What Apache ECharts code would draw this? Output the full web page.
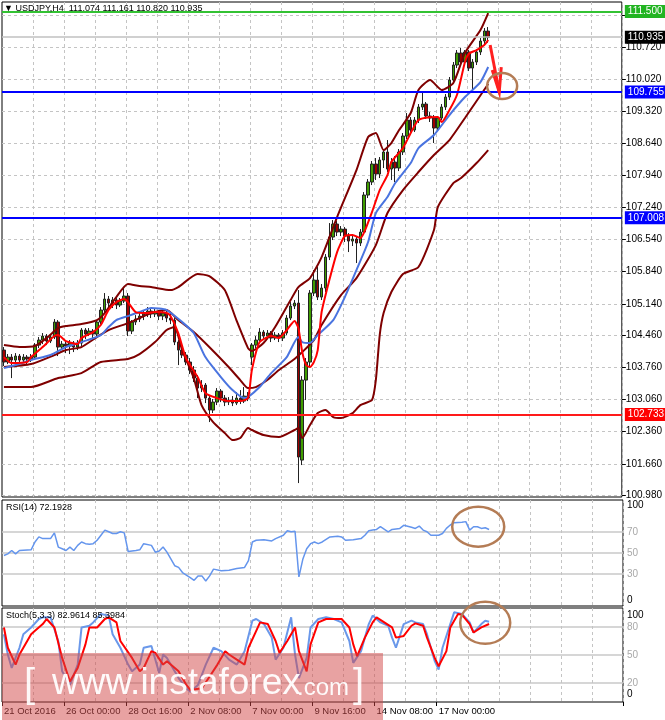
<!DOCTYPE html>
<html><head><meta charset="utf-8">
<script src="https://cdn.jsdelivr.net/npm/echarts@6/dist/echarts.min.js"></script>
<style>html,body{margin:0;padding:0;background:#fff}#c{width:665px;height:720px}</style>
</head><body><div id="c"></div>
<script>
// ---- data ----
// candles: [open, close, low, high], H4 bars from 21 Oct 2016 08:00
const ohlc = [
[104.134,103.873,103.786,104.199],[103.873,103.981,103.829,104.047],[103.981,103.916,103.524,104.047],[103.916,104.003,103.873,104.068],[104.003,103.916,103.851,104.047],[103.916,103.981,103.873,104.047],[103.981,103.938,103.829,104.025],[103.938,103.981,103.873,104.047],
[103.981,104.242,103.938,104.286],[104.242,104.351,104.177,104.417],[104.351,104.438,104.264,104.504],[104.438,104.330,104.242,104.482],[104.330,104.417,104.286,104.482],[104.417,104.743,104.373,104.808],[104.743,104.199,104.003,104.786],[104.199,104.264,104.134,104.330],
[104.264,104.221,104.068,104.330],[104.221,104.286,104.047,104.351],[104.286,104.199,104.090,104.330],[104.199,104.286,104.134,104.351],[104.286,104.569,104.221,104.612],[104.569,104.482,104.373,104.612],[104.482,104.547,104.438,104.612],[104.547,104.482,104.395,104.591],
[104.482,104.743,104.438,104.786],[104.743,105.004,104.699,105.069],[105.004,105.243,104.961,105.374],[105.243,105.156,105.069,105.309],[105.156,105.222,105.048,105.287],[105.222,105.113,105.026,105.265],[105.113,105.200,105.069,105.265],[105.200,105.309,105.156,105.504],
[105.309,104.547,104.438,105.374],[104.547,104.743,104.482,104.786],[104.743,104.808,104.678,104.895],[104.808,104.873,104.743,104.939],[104.873,104.917,104.786,104.982],[104.917,104.982,104.852,105.069],[104.982,104.917,104.830,105.048],[104.917,104.961,104.852,105.026],
[104.961,104.873,104.786,105.004],[104.873,104.939,104.786,104.982],[104.939,104.830,104.743,104.982],[104.830,104.786,104.699,104.939],[104.786,104.308,104.242,104.830],[104.308,104.134,103.807,104.351],[104.134,104.025,103.960,104.199],[104.025,103.873,103.807,104.090],
[103.873,103.699,103.612,103.960],[103.699,103.524,103.437,103.786],[103.524,103.307,103.089,103.590],[103.307,103.372,103.220,103.481],[103.372,103.089,102.981,103.416],[103.089,102.828,102.567,103.155],[102.828,103.002,102.763,103.068],[103.002,103.242,102.937,103.307],
[103.242,103.089,103.002,103.285],[103.089,103.002,102.915,103.155],[103.002,103.046,102.937,103.111],[103.046,102.981,102.915,103.133],[102.981,103.089,102.937,103.220],[103.089,103.024,102.959,103.263],[103.024,103.133,102.981,103.329],[103.133,103.089,103.024,103.220],
[103.981,104.242,103.807,104.286],[104.242,104.351,104.177,104.438],[104.351,104.525,104.286,104.612],[104.525,104.438,104.351,104.569],[104.438,104.504,104.373,104.569],[104.504,104.395,104.308,104.547],[104.395,104.460,104.351,104.525],[104.460,104.395,104.308,104.504],
[104.395,104.504,104.330,104.569],[104.504,104.830,104.460,104.895],[104.830,105.091,104.786,105.178],[105.091,105.156,105.026,105.222],[105.156,101.806,101.240,105.439],[101.740,103.481,101.632,103.568],[103.481,103.873,103.046,103.960],[103.873,105.374,103.786,105.439],
[105.374,105.657,105.309,105.874],[105.657,105.287,105.222,105.940],[105.287,105.483,105.222,105.570],[105.483,106.157,105.396,106.222],[106.157,106.592,106.092,106.897],[106.592,106.875,106.527,106.962],[106.875,106.701,106.614,106.940],[106.701,106.766,106.614,106.832],
[106.766,106.614,106.484,106.810],[106.614,106.505,106.266,106.679],[106.505,106.549,106.397,106.614],[106.549,106.462,106.027,106.614],[106.462,106.701,106.397,106.766],[106.701,107.506,106.636,107.571],[107.506,107.789,107.441,107.854],[107.789,108.181,107.724,108.246],
[108.181,107.963,107.833,108.311],[107.963,108.268,107.876,108.333],[108.268,108.442,108.094,108.507],[108.442,108.072,108.007,108.703],[108.072,108.224,107.833,108.311],[108.224,108.094,107.789,108.355],[108.094,108.442,108.028,108.507],[108.442,108.790,108.377,108.855],
[108.790,109.138,108.725,109.290],[109.138,108.920,108.855,109.203],[108.920,109.138,108.877,109.203],[109.138,109.421,109.073,109.486],[109.421,109.486,109.356,109.747],[109.486,109.225,109.160,109.530],[109.225,109.182,109.095,109.312],[109.182,108.964,108.638,109.247],
[108.964,109.182,108.899,109.225],[109.182,109.421,109.138,109.486],[109.421,109.638,109.356,109.704],[109.638,110.008,109.573,110.074],[110.008,110.335,109.943,110.400],[110.335,110.596,110.269,110.661],[110.596,110.400,110.335,110.705],[110.400,110.618,110.335,110.661],
[110.618,110.269,110.204,110.661],[110.269,110.400,109.791,110.465],[110.400,110.618,110.335,110.683],[110.618,110.857,110.552,110.922],[110.857,111.075,110.792,111.140],[111.074,110.935,110.820,111.161]
];
// indicator lines: [bar index, value]
const upperBand = [[0,104.242],[4,104.199],[8,104.221],[11,104.395],[14,104.612],[16,104.656],[20,104.699],[24,104.786],[26,104.939],[29,105.287],[32,105.570],[35,105.526],[38,105.504],[43,105.439],[45,105.504],[50,105.787],[53,105.744],[57,105.439],[60,104.786],[63,104.177],[64,104.112],[67,104.286],[70,104.634],[74,105.222],[76,105.504],[79,105.700],[82,106.157],[86,107.028],[91,108.050],[94,108.768],[96,108.855],[98,108.485],[100,108.638],[102,108.920],[105,109.290],[107,109.791],[110,110.008],[113,109.791],[116,109.943],[119,110.596],[123,111.096],[125,111.466]];
const midBand = [[0,103.764],[7,103.829],[13,104.025],[16,104.134],[20,104.199],[24,104.417],[27,104.569],[32,104.721],[35,104.830],[38,104.939],[42,105.004],[45,104.786],[49,104.525],[53,104.199],[58,103.764],[61,103.481],[63,103.307],[65,103.329],[68,103.481],[71,103.699],[75,103.938],[77,104.090],[80,104.351],[82,104.678],[87,105.330],[91,105.700],[96,106.418],[99,107.115],[103,107.615],[107,108.007],[111,108.377],[115,108.703],[119,109.182],[125,109.921]];
const lowerBand = [[0,103.329],[7,103.329],[14,103.524],[20,103.633],[25,103.873],[32,103.938],[35,104.047],[39,104.308],[42,104.569],[44,104.634],[46,104.134],[49,103.524],[51,102.937],[54,102.567],[57,102.328],[59,102.176],[61,102.219],[63,102.437],[64,102.394],[67,102.284],[71,102.241],[75,102.394],[76,102.437],[77,102.219],[79,102.502],[81,102.763],[83,102.828],[85,102.676],[87,102.654],[90,102.763],[92,102.937],[95,103.046],[96,103.481],[97,104.460],[98,104.939],[100,105.396],[103,105.787],[107,105.940],[111,106.745],[112,107.245],[116,107.767],[118,107.876],[122,108.202],[125,108.485]];
const blueMA = [[0,103.742],[3,103.807],[7,103.916],[12,104.025],[16,104.199],[20,104.308],[25,104.460],[27,104.634],[29,104.786],[32,104.873],[35,104.961],[38,105.048],[42,105.004],[46,104.743],[49,104.504],[52,103.981],[56,103.546],[59,103.263],[62,103.089],[63,103.111],[66,103.329],[69,103.633],[73,103.981],[76,104.417],[77,104.308],[79,104.286],[81,104.460],[85,104.786],[88,105.287],[91,105.874],[94,106.484],[96,107.115],[99,107.463],[101,107.767],[105,108.202],[107,108.529],[111,108.812],[115,109.247],[119,109.638],[123,109.965],[125,110.291]];
const redMA = [[0,103.981],[2,103.851],[6,103.873],[7,103.981],[10,104.199],[13,104.438],[14,104.460],[16,104.330],[19,104.264],[20,104.395],[23,104.525],[25,104.678],[27,105.004],[29,105.178],[31,105.243],[32,105.178],[34,104.961],[37,104.939],[39,104.961],[42,104.939],[43,104.873],[45,104.504],[47,103.960],[50,103.546],[52,103.198],[55,103.089],[58,103.024],[61,103.024],[63,103.089],[64,103.699],[66,104.308],[69,104.438],[71,104.395],[73,104.569],[75,104.765],[76,104.612],[77,104.090],[78,103.807],[79,103.764],[80,103.873],[81,104.134],[82,104.961],[84,105.657],[86,106.266],[88,106.614],[90,106.636],[92,106.571],[93,106.701],[95,107.136],[97,107.615],[99,107.941],[100,108.224],[103,108.529],[105,108.855],[107,109.138],[110,109.200],[112,109.203],[113,109.095],[115,109.356],[117,109.700],[119,110.400],[120,110.580],[122,110.660],[124,110.770],[125,110.879]];
const rsi = [[0,47.6],[1,49.2],[2,52.4],[3,49.2],[4,52.4],[7,53.0],[8,60.4],[9,65.2],[10,63.6],[12,63.6],[13,69.0],[14,55.6],[15,54.0],[16,52.4],[17,55.6],[18,52.4],[19,57.2],[20,60.4],[21,58.8],[22,58.2],[23,58.8],[24,62.0],[25,66.8],[26,71.6],[27,70.0],[28,68.4],[29,68.4],[30,70.0],[31,69.0],[32,51.4],[34,52.4],[35,53.0],[36,58.8],[38,57.2],[39,50.8],[40,51.8],[41,55.6],[42,50.8],[43,44.4],[44,38.0],[45,36.4],[46,31.6],[48,26.8],[49,24.2],[50,28.4],[51,28.4],[52,23.6],[53,28.4],[54,34.8],[56,33.2],[58,33.8],[60,35.4],[62,36.4],[63,42.8],[64,60.4],[65,62.0],[67,62.6],[69,61.4],[70,63.6],[72,66.8],[73,71.0],[74,70.0],[75,70.5],[76,27.4],[77,44.0],[78,54.0],[79,58.8],[80,60.4],[81,58.8],[82,60.4],[84,65.2],[86,65.8],[87,65.2],[88,62.0],[90,62.6],[92,63.6],[93,66.8],[94,71.0],[95,71.6],[96,72.2],[97,74.8],[99,70.0],[100,72.2],[102,73.2],[103,76.1],[105,74.2],[106,73.2],[107,75.4],[108,71.6],[109,70.0],[110,66.8],[112,66.8],[113,68.4],[114,73.2],[115,76.4],[116,78.6],[118,79.0],[119,79.6],[120,71.6],[121,74.8],[122,74.8],[123,73.2],[124,73.8],[125,72.2]];
const stochBlue = [[0,72.1],[1,50.5],[2,36.2],[4,57.7],[5,72.1],[7,79.3],[9,88.3],[10,90.1],[12,90.1],[14,64.9],[15,32.6],[17,18.2],[19,39.8],[20,79.3],[22,81.1],[23,84.7],[25,93.7],[27,91.9],[28,72.1],[30,57.7],[32,39.8],[33,32.6],[35,39.8],[36,57.7],[38,59.5],[40,30.8],[41,50.5],[42,46.9],[45,25.4],[47,14.6],[48,11.0],[50,18.2],[52,39.8],[54,57.7],[56,54.1],[58,45.1],[60,39.8],[62,54.1],[64,86.5],[65,88.3],[67,82.9],[69,68.5],[70,45.1],[72,57.7],[74,90.1],[75,50.5],[76,25.4],[78,46.9],[79,79.3],[81,88.3],[83,90.1],[85,88.3],[87,84.7],[89,64.9],[90,41.6],[92,54.1],[94,82.9],[95,91.9],[97,84.7],[99,81.1],[100,68.5],[101,57.7],[103,82.9],[105,86.5],[106,84.7],[108,82.9],[109,72.1],[111,43.4],[112,34.4],[113,57.7],[115,82.9],[116,95.4],[118,93.7],[120,84.7],[121,73.9],[123,82.9],[124,86.5],[125,85.4]];
const stochRed = [[0,79.3],[1,57.7],[3,39.8],[4,50.5],[7,72.1],[8,75.7],[10,82.9],[11,88.3],[13,79.3],[15,46.9],[17,21.8],[19,36.2],[21,61.3],[22,79.3],[24,79.3],[26,88.3],[27,90.1],[29,84.7],[30,64.9],[33,46.9],[35,32.6],[36,36.2],[38,54.1],[39,52.3],[41,39.8],[42,43.4],[45,32.6],[47,18.2],[48,12.8],[51,14.6],[53,27.2],[55,39.8],[57,54.1],[58,50.5],[60,45.1],[62,39.8],[63,57.7],[65,75.7],[66,84.7],[68,82.9],[70,64.9],[71,52.3],[73,64.9],[75,79.3],[76,54.1],[78,32.6],[79,61.3],[81,84.7],[83,88.3],[85,88.3],[87,88.3],[89,79.3],[90,61.3],[91,48.7],[93,68.5],[95,84.7],[96,90.1],[98,84.7],[100,79.3],[101,68.5],[103,70.3],[105,81.1],[106,83.6],[108,81.1],[109,68.5],[111,46.9],[112,38.0],[114,54.1],[115,79.3],[117,93.7],[118,92.9],[120,82.9],[121,73.9],[123,79.3],[125,82.96]];
// horizontal levels
const levelValues = [111.500, 110.935, 109.755, 107.008, 102.733];
const levelColors = ['#33c233', '#c0c0c0', '#0000ff', '#0000ff', '#ff1a1a'];
const levelBoxes  = ['#22b422', '#000000', '#0000ff', '#0000ff', '#ff0000'];
// axis ticks
const priceTicks = [100.98,101.66,102.36,103.06,103.76,104.46,105.14,105.84,106.54,107.24,107.94,108.64,109.32,110.02,110.72,111.42];
const rsiLabels = [0,30,50,70,100], rsiLevels = [30,50,70];
const stochLabels = [0,20,50,80,100], stochLevels = [20,50,80];
const timeLabelIdx = [0,16,32,48,64,80,96,112];
const timeLabelText = ['21 Oct 2016','26 Oct 00:00','28 Oct 16:00','2 Nov 08:00','7 Nov 00:00','9 Nov 16:00','14 Nov 08:00','17 Nov 00:00'];
const slotCount = 160;
// annotations (data coordinates)
const arrowShaft = [[125.5,110.770],[127.85,109.747]];
const arrowHead = [[126.05,110.226],[127.85,109.747],[128.37,110.291]];
const circleMain = [128.6,109.878], circleRsi = [122.2,74.8], circleStoch = [124.0,84.3];

// ---- chart ----
const FONT = '"Liberation Sans", Arial, sans-serif';
const cats = Array.from({length: slotCount}, (_, i) => String(i));
const chart = echarts.init(document.getElementById('c'));
const gridLine = {color:'#c4c4c4', type:[3,3], width:1};
function xAx(gi, bottom){
  const a = {type:'category', gridIndex:gi, data:cats, boundaryGap:true,
    axisLine:{show:false},
    axisTick:{show:false},
    axisLabel:{show:false},
    splitLine:{show:true, interval:(i)=> i>0 && i%8===0, lineStyle:gridLine}};
  if (bottom){
    const lbl = (i)=> timeLabelIdx.indexOf(i) >= 0;
    a.axisTick = {show:true, interval:lbl, length:4, lineStyle:{color:'#000'}};
    a.axisLabel = {show:true, interval:lbl, align:'left', margin:4, color:'#000', fontSize:9.5, fontFamily:FONT,
      formatter:(v)=> timeLabelText[timeLabelIdx.indexOf(Number(v))]};
  }
  return a;
}
function richLabel(topPad, botPad){
  return {
    t:{padding:[topPad,0,0,0], color:'#000', fontSize:10, fontFamily:FONT},
    b:{padding:[0,0,botPad,0], color:'#000', fontSize:10, fontFamily:FONT},
    g:{color:'#a8a8a8', fontSize:10, fontFamily:FONT}
  };
}
const lineBase = {type:'line', symbol:'none', showSymbol:false, silent:true, animation:false};

const option = {
  animation:false,
  backgroundColor:'#fff',
  title:[
    {text:'\u25BC USDJPY,H4  111.074 111.161 110.820 110.935', left:4, top:4, padding:0, textStyle:{fontSize:9, fontWeight:'normal', color:'#000', fontFamily:FONT}},
    {text:'RSI(14) 72.1928', left:6, top:503, padding:0, textStyle:{fontSize:9, fontWeight:'normal', color:'#000', fontFamily:FONT}},
    {text:'Stoch(5,3,3) 82.9614 85.3984', left:6, top:611, padding:0, textStyle:{fontSize:9, fontWeight:'normal', color:'#000', fontFamily:FONT}}
  ],
  grid:[
    {left:2, top:2, width:621, height:495, show:true, borderColor:'#000', borderWidth:1, backgroundColor:'#fff'},
    {left:2, top:500, width:621, height:106, show:true, borderColor:'#000', borderWidth:1, backgroundColor:'#fff'},
    {left:2, top:608, width:621, height:94, show:true, borderColor:'#000', borderWidth:1, backgroundColor:'#fff'}
  ],
  xAxis:[xAx(0,false), xAx(1,false), xAx(2,true)],
  yAxis:[
    {type:'value', gridIndex:0, position:'right', min:100.937, max:111.706,
     axisLine:{show:false},
     axisTick:{show:true, customValues:priceTicks, length:4, lineStyle:{color:'#000'}},
     axisLabel:{customValues:priceTicks, formatter:(v)=>v.toFixed(3), color:'#000', fontSize:10, fontFamily:FONT, margin:4},
     splitLine:{show:true, lineStyle:gridLine}},
    {type:'value', gridIndex:1, position:'right', min:0, max:100,
     axisLine:{show:false},
     axisTick:{show:false, customValues:rsiLevels},
     axisLabel:{customValues:rsiLabels, margin:4,
       formatter:(v)=> v===100 ? '{t|100}' : v===0 ? '{b|0}' : '{g|'+v+'}', rich:richLabel(11,12)},
     splitLine:{show:true, lineStyle:{color:'#c8c8c8', width:1.5}}},
    {type:'value', gridIndex:2, position:'right', min:0, max:100,
     axisLine:{show:false},
     axisTick:{show:false, customValues:stochLevels},
     axisLabel:{customValues:stochLabels, margin:4,
       formatter:(v)=> v===100 ? '{t|100}' : v===0 ? '{b|0}' : '{g|'+v+'}', rich:richLabel(14,15)},
     splitLine:{show:true, lineStyle:{color:'#c8c8c8', width:1.5}}}
  ],
  series:[
    {type:'candlestick', xAxisIndex:0, yAxisIndex:0, data:ohlc, barWidth:3, silent:true, animation:false,
     itemStyle:{color:'#3f9c00', color0:'#a00000', borderColor:'#222', borderColor0:'#222', borderWidth:1},
     markLine:{symbol:['none','none'], silent:true, animation:false,
       data: levelValues.map((v,k)=>({yAxis:v,
         lineStyle:{color:levelColors[k], width:(k===1?1.5:2), type:'solid'},
         label:{show:true, position:'end', distance:3, formatter:()=>v.toFixed(3), color:'#fff',
           backgroundColor:levelBoxes[k], padding:[2,3,1,3], fontSize:10, fontFamily:FONT}}))}},
    Object.assign({}, lineBase, {xAxisIndex:0, yAxisIndex:0, data:upperBand, smooth:0.2, lineStyle:{color:'#7f0000', width:2}}),
    Object.assign({}, lineBase, {xAxisIndex:0, yAxisIndex:0, data:lowerBand, smooth:0.2, lineStyle:{color:'#7f0000', width:2}}),
    Object.assign({}, lineBase, {xAxisIndex:0, yAxisIndex:0, data:midBand, smooth:0.2, lineStyle:{color:'#7f0000', width:2}}),
    Object.assign({}, lineBase, {xAxisIndex:0, yAxisIndex:0, data:blueMA, smooth:0.2, lineStyle:{color:'#4a74e0', width:2}}),
    Object.assign({}, lineBase, {xAxisIndex:0, yAxisIndex:0, data:redMA, smooth:0.2, lineStyle:{color:'#ff0000', width:2}}),
    Object.assign({}, lineBase, {xAxisIndex:1, yAxisIndex:1, data:rsi, lineStyle:{color:'#6495ed', width:1.5}}),
    Object.assign({}, lineBase, {xAxisIndex:2, yAxisIndex:2, data:stochBlue, lineStyle:{color:'#6a98ea', width:2}}),
    Object.assign({}, lineBase, {xAxisIndex:2, yAxisIndex:2, data:stochRed, lineStyle:{color:'#ff0000', width:2}})
  ]
};
chart.setOption(option);

function px(gi, bar, val){
  const b0 = Math.floor(bar);
  const p0 = chart.convertToPixel({gridIndex:gi}, [b0, val]);
  const p1 = chart.convertToPixel({gridIndex:gi}, [b0+1, val]);
  return [p0[0] + (p1[0]-p0[0])*(bar-b0), p0[1]];
}
const ring = {fill:'none', stroke:'#b47c55', lineWidth:2.5};
const cM = px(0, circleMain[0], circleMain[1]);
const cR = px(1, circleRsi[0], circleRsi[1]);
const cS = px(2, circleStoch[0], circleStoch[1]);
chart.setOption({graphic:[
  {type:'polyline', silent:true, z:50, shape:{points:arrowShaft.map(p=>px(0,p[0],p[1]))}, style:{stroke:'#ff2020', lineWidth:3, fill:'none'}},
  {type:'polyline', silent:true, z:50, shape:{points:arrowHead.map(p=>px(0,p[0],p[1]))}, style:{stroke:'#ff2020', lineWidth:3, fill:'none', lineJoin:'miter'}},
  {type:'ellipse', silent:true, z:50, shape:{cx:cM[0], cy:cM[1], rx:15, ry:13}, style:ring},
  {type:'ellipse', silent:true, z:50, shape:{cx:cR[0], cy:cR[1], rx:26, ry:20}, style:ring},
  {type:'ellipse', silent:true, z:50, shape:{cx:cS[0], cy:cS[1], rx:25, ry:21}, style:ring},
  {type:'rect', silent:true, z:60, shape:{x:2, y:653, width:381, height:67}, style:{fill:'rgba(210,70,70,0.5)'}},
  {type:'text', silent:true, z:61, x:24, y:686, style:{text:'[', fill:'rgba(255,255,255,0.92)', font:'300 40px "Liberation Sans", Arial, sans-serif', verticalAlign:'middle'}},
  {type:'text', silent:true, z:61, x:52, y:684, style:{text:'www.instaforex', fill:'rgba(255,255,255,0.95)', font:'37px "Liberation Sans", Arial, sans-serif', verticalAlign:'middle'}},
  {type:'text', silent:true, z:61, x:297, y:688, style:{text:'.com', fill:'rgba(255,255,255,0.95)', font:'24px "Liberation Sans", Arial, sans-serif', verticalAlign:'middle'}},
  {type:'text', silent:true, z:61, x:353, y:686, style:{text:']', fill:'rgba(255,255,255,0.92)', font:'300 40px "Liberation Sans", Arial, sans-serif', verticalAlign:'middle'}}
]});
</script>
</body></html>
